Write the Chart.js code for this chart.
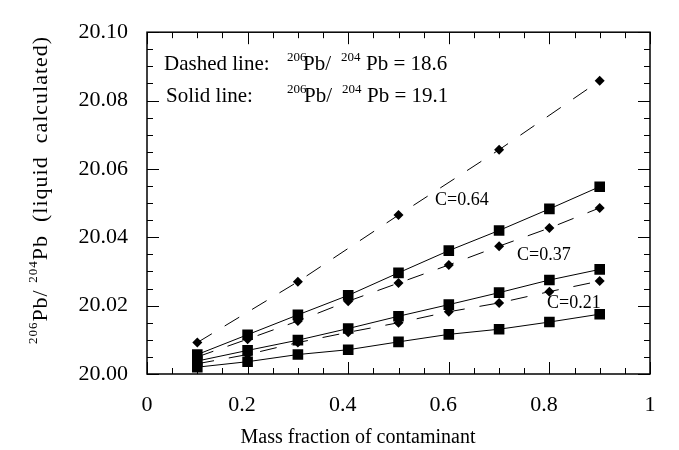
<!DOCTYPE html>
<html>
<head>
<meta charset="utf-8">
<script src="https://cdn.jsdelivr.net/npm/chart.js@4.4.1/dist/chart.umd.min.js"></script>
<style>
  html, body { margin: 0; padding: 0; background: #fff; }
  #wrap { width: 679px; height: 450px; position: relative; }
</style>
</head>
<body>
<div id="wrap"><canvas id="chart"></canvas></div>
<script>
const xAll = [0.1, 0.2, 0.3, 0.4, 0.5, 0.6, 0.7, 0.8, 0.9];
const xOdd = [0.1, 0.3, 0.5, 0.7, 0.9];

const solidTop = [20.0057, 20.0115, 20.0173, 20.0230, 20.0296, 20.0361, 20.0420, 20.0483, 20.0548];
const solidMid = [20.0038, 20.0069, 20.0099, 20.0133, 20.0169, 20.0203, 20.0238, 20.0275, 20.0306];
const solidLow = [20.0020, 20.0036, 20.0057, 20.0071, 20.0094, 20.0116, 20.0131, 20.0152, 20.0175];

const dashedTop = [20.0092, 20.0270, 20.0465, 20.0656, 20.0858];
const dashedMid = [20.0050, 20.0102, 20.0155, 20.0213, 20.0266, 20.0319, 20.0374, 20.0427, 20.0486];
const dashedLow = [20.0030, 20.0057, 20.0092, 20.0122, 20.0150, 20.0182, 20.0208, 20.0241, 20.0272];

const curveLabels = ['C=0.64', 'C=0.37', 'C=0.21'];
const xTickLabels = ['0', '0.2', '0.4', '0.6', '0.8', '1'];

const SERIF = '"Liberation Serif", "Times New Roman", serif';

function pts(xs, ys) {
  return ys.map((y, i) => ({ x: xs[i], y: y }));
}

function solid(data) {
  return {
    data: pts(xAll, data),
    borderColor: '#000',
    borderWidth: 1,
    pointStyle: 'rect',
    pointRadius: 7.5,
    pointBackgroundColor: '#000',
    pointBorderWidth: 0,
    showLine: true
  };
}

function dashed(xs, data) {
  return {
    data: pts(xs, data),
    borderColor: '#000',
    borderWidth: 1,
    borderDash: [17, 15],
    pointStyle: 'rectRot',
    pointRadius: 5,
    pointBackgroundColor: '#000',
    pointBorderWidth: 0,
    showLine: true
  };
}

// text run with superscripts: parts = [[text, isSup, x?], ...]
function drawRun(ctx, parts, x, y, size, supSize) {
  let cx = x;
  parts.forEach(([t, sup, fx]) => {
    if (fx !== undefined) cx = fx;
    ctx.font = (sup ? supSize : size) + 'px ' + SERIF;
    ctx.fillText(t, cx, sup ? y - size * 0.45 : y);
    cx += ctx.measureText(t).width;
  });
}

function runWidth(ctx, parts, size, supSize) {
  let w = 0;
  parts.forEach(([t, sup]) => {
    ctx.font = (sup ? supSize : size) + 'px ' + SERIF;
    w += ctx.measureText(t).width;
  });
  return w;
}

const framePlugin = {
  id: 'frame',
  afterDraw(chart) {
    const ctx = chart.ctx;
    const a = chart.chartArea;
    const xs = chart.scales.x;
    const ys = chart.scales.y;
    ctx.save();
    ctx.strokeStyle = '#000';
    ctx.lineWidth = 1.5;
    ctx.strokeRect(a.left, a.top, a.right - a.left, a.bottom - a.top);

    ctx.lineWidth = 1;
    ctx.beginPath();
    xs.ticks.forEach(t => {
      const px = Math.round(xs.getPixelForValue(t.value)) + 0.5;
      const major = Math.abs(t.value * 5 - Math.round(t.value * 5)) < 1e-6;
      const len = major ? 12 : 6;
      ctx.moveTo(px, a.bottom); ctx.lineTo(px, a.bottom - len);
      ctx.moveTo(px, a.top); ctx.lineTo(px, a.top + len);
    });
    ys.ticks.forEach(t => {
      const py = Math.round(ys.getPixelForValue(t.value)) + 0.5;
      const v = (t.value - 20) * 50;
      const major = Math.abs(v - Math.round(v)) < 1e-6;
      const len = major ? 12 : 6;
      ctx.moveTo(a.left, py); ctx.lineTo(a.left + len, py);
      ctx.moveTo(a.right, py); ctx.lineTo(a.right - len, py);
    });
    ctx.stroke();

    ctx.fillStyle = '#000';
    ctx.textBaseline = 'alphabetic';
    ctx.textAlign = 'left';

    // legend text
    ctx.font = '21px ' + SERIF;
    ctx.fillText('Dashed line:', 164, 70);
    ctx.fillText('Solid line:', 166, 102);
    drawRun(ctx, [['206', true, 287], ['Pb/', false, 303], ['204', true, 341], ['Pb = 18.6', false, 366]], 0, 70, 21, 13);
    drawRun(ctx, [['206', true, 287], ['Pb/', false, 304], ['204', true, 342], ['Pb = 19.1', false, 367]], 0, 102, 21, 13);

    // curve labels
    ctx.font = '18px ' + SERIF;
    ctx.fillText(curveLabels[0], 435, 205);
    ctx.fillText(curveLabels[1], 517, 260);
    ctx.fillText(curveLabels[2], 547, 308);

    // x title
    ctx.textAlign = 'center';
    ctx.font = '20px ' + SERIF;
    ctx.fillText('Mass fraction of contaminant', 358, 443);

    // y title
    ctx.textAlign = 'left';
    ctx.letterSpacing = '1px';
    const parts = [['206', true], ['Pb/ ', false], ['204', true], ['Pb  (liquid  calculated)', false]];
    const w = runWidth(ctx, parts, 22, 13);
    ctx.translate(47, 190);
    ctx.rotate(-Math.PI / 2);
    drawRun(ctx, parts, -w / 2, 0, 22, 13);
    ctx.restore();
  }
};

new Chart(document.getElementById('chart'), {
  type: 'scatter',
  data: {
    datasets: [
      solid(solidTop),
      solid(solidMid),
      solid(solidLow),
      dashed(xOdd, dashedTop),
      dashed(xAll, dashedMid),
      dashed(xAll, dashedLow)
    ]
  },
  options: {
    responsive: true,
    maintainAspectRatio: false,
    animation: false,
    layout: { padding: { left: 0, right: 29, top: 14, bottom: 0 } },
    plugins: { legend: { display: false }, tooltip: { enabled: false } },
    scales: {
      x: {
        type: 'linear',
        min: 0,
        max: 1,
        grid: { display: false, drawTicks: false },
        border: { display: false },
        ticks: {
          stepSize: 0.05,
          autoSkip: false,
          maxRotation: 0,
          padding: 18,
          color: '#000',
          font: { family: SERIF, size: 22 },
          callback: v => {
            const k = Math.round(v * 5);
            if (Math.abs(v * 5 - k) > 1e-6) return '';
            // decimals sit a little left of their tick in the original
            return (k > 0 && k < 5) ? xTickLabels[k] + '  ' : xTickLabels[k];
          }
        },
        afterFit: s => { s.height = 76; }
      },
      y: {
        type: 'linear',
        min: 20,
        max: 20.1,
        grid: { display: false, drawTicks: false },
        border: { display: false },
        ticks: {
          stepSize: 0.005,
          autoSkip: false,
          padding: 19,
          color: '#000',
          font: { family: SERIF, size: 22 },
          callback: v => {
            const k = (v - 20) * 50;
            return Math.abs(k - Math.round(k)) < 1e-6 ? v.toFixed(2) : '';
          }
        },
        afterFit: s => { s.width = 147; }
      }
    }
  },
  plugins: [framePlugin]
});
</script>
</body>
</html>
